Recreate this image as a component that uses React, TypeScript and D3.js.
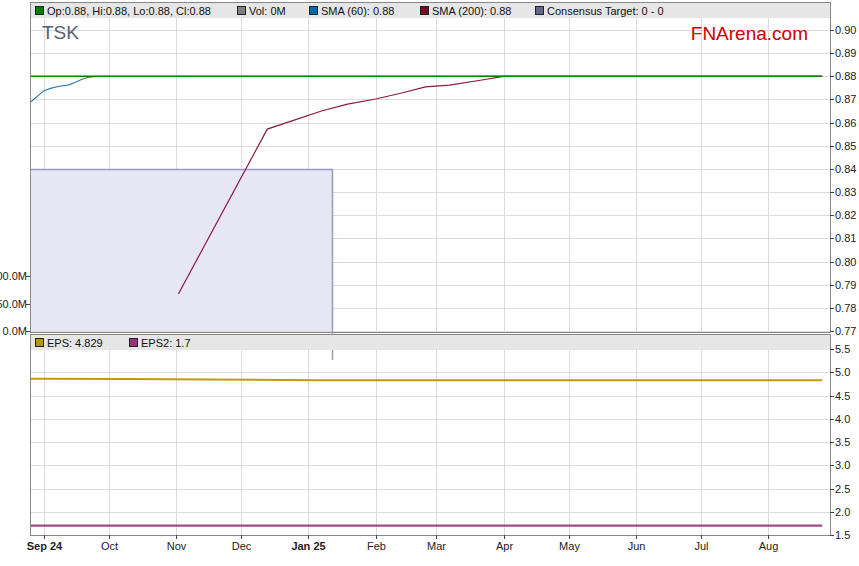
import React, { useEffect, useRef } from 'react';
import * as d3 from 'd3';

// tick labels
const monthTicks = ['2024-09-01', '2024-10-01', '2024-11-01', '2024-12-01', '2025-01-01', '2025-02-01', '2025-03-01', '2025-04-01', '2025-05-01', '2025-06-01', '2025-07-01', '2025-08-01'];
const monthLabels = ['Sep 24', 'Oct', 'Nov', 'Dec', 'Jan 25', 'Feb', 'Mar', 'Apr', 'May', 'Jun', 'Jul', 'Aug'];
const priceTicks = [0.90, 0.89, 0.88, 0.87, 0.86, 0.85, 0.84, 0.83, 0.82, 0.81, 0.80, 0.79, 0.78, 0.77];
const epsTicks = [5.5, 5.0, 4.5, 4.0, 3.5, 3.0, 2.5, 2.0, 1.5];
const volTicks = [0, 50e6, 100e6];

// series
const closeDates = ['2024-08-26', '2025-08-26'];
const closeValues = [0.88, 0.88];

const sma60Dates = ['2024-08-26', '2024-08-30', '2024-09-01', '2024-09-04', '2024-09-08', '2024-09-12', '2024-09-15', '2024-09-18', '2024-09-21', '2024-09-25', '2025-08-26'];
const sma60Values = [0.869, 0.8722, 0.8738, 0.8748, 0.8757, 0.8762, 0.8772, 0.8785, 0.8795, 0.88, 0.88];

const sma200Dates = ['2024-11-02', '2024-12-13', '2024-12-23', '2025-01-07', '2025-01-19', '2025-02-01', '2025-02-13', '2025-02-24', '2025-03-07', '2025-03-22', '2025-04-01', '2025-08-26'];
const sma200Values = [0.786, 0.8572, 0.8603, 0.865, 0.868, 0.8702, 0.8728, 0.8754, 0.8762, 0.8784, 0.88, 0.88];

const consensusStart = '2024-08-26';
const consensusEnd = '2025-01-12';
const consensusTarget = 0.84;

const epsDates = ['2024-08-26', '2024-10-10', '2024-11-15', '2025-01-05', '2025-08-26'];
const epsValues = [4.86, 4.856, 4.842, 4.829, 4.829];

const eps2Dates = ['2024-08-26', '2025-08-26'];
const eps2Values = [1.7, 1.7];

const topLegend = [
  { label: 'Op:0.88, Hi:0.88, Lo:0.88, Cl:0.88', color: '#008000', x: 35 },
  { label: 'Vol: 0M', color: '#808080', x: 237 },
  { label: 'SMA (60): 0.88', color: '#0a66a8', x: 309 },
  { label: 'SMA (200): 0.88', color: '#800028', x: 420 },
  { label: 'Consensus Target: 0 - 0', color: '#666688', x: 535 },
];
const bottomLegend = [
  { label: 'EPS: 4.829', color: '#b89600', x: 35 },
  { label: 'EPS2: 1.7', color: '#993377', x: 129 },
];

const parse = d3.timeParse('%Y-%m-%d');
const FONT = '"Liberation Sans", Arial, sans-serif';

export default function App() {
  const svgRef = useRef<SVGSVGElement>(null);

  useEffect(() => {
    if (!svgRef.current) return;
    const svg = d3.select(svgRef.current);
    svg.selectAll('*').remove();

    const left = 30;
    const right = 830;
    const top1 = 2;
    const bottom1 = 332;
    const top2 = 334;
    const bottom2 = 535;

    const x = d3.scaleTime()
      .domain([parse('2024-09-01')!, parse('2025-08-01')!])
      .range([44, 768]);

    const y = d3.scaleLinear().domain([0.77, 0.90]).range([331, 30]);
    const yEps = d3.scaleLinear().domain([1.5, 5.5]).range([535, 349]);
    const yVol = d3.scaleLinear().domain([0, 100e6]).range([331, 276]);

    const g = svg.append('g').attr('font-family', FONT);

    // panel backgrounds
    g.append('rect').attr('x', left).attr('y', top1).attr('width', right - left).attr('height', bottom1 - top1).attr('fill', '#fff');
    g.append('rect').attr('x', left).attr('y', top2).attr('width', right - left).attr('height', bottom2 - top2).attr('fill', '#fff');

    const grid = '#dcdcdc';
    const ticks = monthTicks.map(d => parse(d)!);

    // vertical grid
    [[top1, bottom1], [top2, bottom2]].forEach(([a, b]) => {
      g.selectAll(null).data(ticks).enter().append('line')
        .attr('x1', d => Math.round(x(d)) + 0.5).attr('x2', d => Math.round(x(d)) + 0.5)
        .attr('y1', a).attr('y2', b)
        .attr('stroke', grid);
    });

    // horizontal grid
    g.selectAll(null).data(priceTicks).enter().append('line')
      .attr('x1', left).attr('x2', right)
      .attr('y1', d => Math.round(y(d)) + 0.5).attr('y2', d => Math.round(y(d)) + 0.5)
      .attr('stroke', grid);
    g.selectAll(null).data(epsTicks).enter().append('line')
      .attr('x1', left).attr('x2', right)
      .attr('y1', d => Math.round(yEps(d)) + 0.5).attr('y2', d => Math.round(yEps(d)) + 0.5)
      .attr('stroke', grid);

    // consensus target box
    const cx0 = x(parse(consensusStart)!);
    const cx1 = Math.round(x(parse(consensusEnd)!)) + 0.5;
    g.append('rect')
      .attr('x', Math.max(cx0, left + 1)).attr('y', y(consensusTarget))
      .attr('width', cx1 - Math.max(cx0, left + 1)).attr('height', 331 - y(consensusTarget))
      .attr('fill', '#e6e6f5');
    g.append('path')
      .attr('d', `M${left + 1},${Math.round(y(consensusTarget)) + 0.5}H${cx1}V360`)
      .attr('fill', 'none').attr('stroke', '#9a9ac0').attr('stroke-width', 1.5);

    const series = (dates: string[], vals: number[], sc: d3.ScaleLinear<number, number>) =>
      d3.line<number>().x((_, i) => x(parse(dates[i])!)).y(v => sc(v))(vals);

    const clipId = 'clip-top';
    svg.append('defs').append('clipPath').attr('id', clipId)
      .append('rect').attr('x', left + 1).attr('y', top1).attr('width', right - left - 1).attr('height', bottom1 - top1);

    const lines = g.append('g').attr('clip-path', `url(#${clipId})`);
    lines.append('path').attr('d', series(sma60Dates, sma60Values, y))
      .attr('fill', 'none').attr('stroke', '#2a7ab8').attr('stroke-width', 1.2);
    lines.append('path').attr('d', series(sma200Dates, sma200Values, y))
      .attr('fill', 'none').attr('stroke', '#8b1a42').attr('stroke-width', 1.2);
    lines.append('path').attr('d', series(closeDates, closeValues, y))
      .attr('fill', 'none').attr('stroke', '#008000').attr('stroke-width', 1.5);

    // eps lines
    g.append('path').attr('d', series(epsDates, epsValues, yEps))
      .attr('fill', 'none').attr('stroke', '#c09a10').attr('stroke-width', 2);
    g.append('path').attr('d', series(eps2Dates, eps2Values, yEps))
      .attr('fill', 'none').attr('stroke', '#a04a86').attr('stroke-width', 2.2);

    // legend bars
    const legend = (items: typeof topLegend, ty: number) => {
      g.append('rect').attr('x', left).attr('y', ty).attr('width', right - left).attr('height', 15).attr('fill', '#e6e6e6');
      items.forEach(it => {
        g.append('rect').attr('x', it.x + 0.5).attr('y', ty + 3.5).attr('width', 8).attr('height', 8)
          .attr('fill', it.color).attr('stroke', '#222').attr('stroke-width', 1);
        g.append('text').attr('x', it.x + 12).attr('y', ty + 11.5)
          .attr('font-size', 11).attr('fill', '#111').text(it.label);
      });
    };
    legend(topLegend, top1 + 1);
    legend(bottomLegend, top2 + 1);

    // frames
    g.append('rect').attr('x', left + 0.5).attr('y', top1 + 0.5).attr('width', right - left).attr('height', bottom1 - top1)
      .attr('fill', 'none').attr('stroke', '#888');
    g.append('rect').attr('x', left + 0.5).attr('y', top2 + 0.5).attr('width', right - left).attr('height', bottom2 - top2)
      .attr('fill', 'none').attr('stroke', '#888');

    // right axes
    const rightAxis = (vals: number[], sc: d3.ScaleLinear<number, number>, fmt: (v: number) => string) => {
      vals.forEach(v => {
        const yy = Math.round(sc(v)) + 0.5;
        g.append('line').attr('x1', right).attr('x2', right + 4).attr('y1', yy).attr('y2', yy).attr('stroke', '#444');
        g.append('text').attr('x', right + 5).attr('y', yy).attr('dy', '0.35em')
          .attr('font-size', 11).attr('fill', '#222').text(fmt(v));
      });
    };
    rightAxis(priceTicks, y, d3.format('.2f'));
    rightAxis(epsTicks, yEps, d3.format('.1f'));

    // volume axis (left)
    volTicks.forEach(v => {
      const yy = Math.round(yVol(v)) + 0.5;
      g.append('line').attr('x1', left - 4).attr('x2', left).attr('y1', yy).attr('y2', yy).attr('stroke', '#444');
      g.append('text').attr('x', left - 3).attr('y', yy).attr('dy', '0.35em').attr('text-anchor', 'end')
        .attr('font-size', 11).attr('fill', '#222').text(`${(v / 1e6).toFixed(1)}M`);
    });

    // x axis
    ticks.forEach((d, i) => {
      const xx = Math.round(x(d)) + 0.5;
      g.append('line').attr('x1', xx).attr('x2', xx).attr('y1', bottom2).attr('y2', bottom2 + 4).attr('stroke', '#444');
      const bold = monthLabels[i].includes(' ');
      g.append('text').attr('x', xx).attr('y', bottom2 + 15).attr('text-anchor', 'middle')
        .attr('font-size', 11).attr('font-weight', bold ? 'bold' : 'normal').attr('fill', '#222').text(monthLabels[i]);
    });

    // titles
    g.append('text').attr('x', 42).attr('y', 39).attr('font-size', 19).attr('fill', '#5a6070').text('TSK');
    g.append('text').attr('x', 808).attr('y', 40).attr('text-anchor', 'end').attr('font-size', 19)
      .attr('fill', '#cc0000').text('FNArena.com');
  }, []);

  return (
    <svg ref={svgRef} width={859} height={566}
      style={{ display: 'block', position: 'absolute', left: 0, top: 0, background: '#fff' }} />
  );
}
